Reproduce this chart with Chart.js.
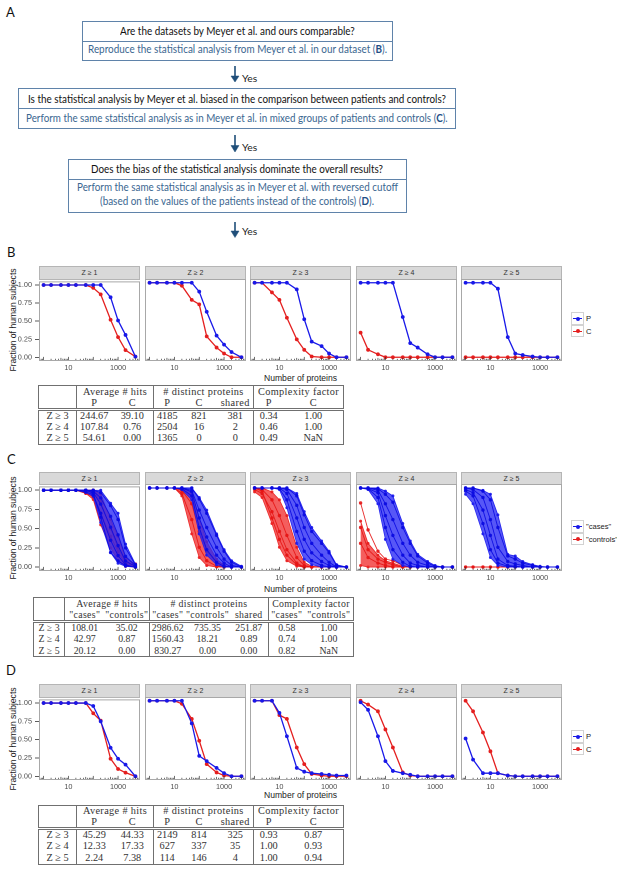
<!DOCTYPE html>
<html>
<head>
<meta charset="utf-8">
<script src="https://cdn.jsdelivr.net/npm/chart.js@4.4.1/dist/chart.umd.min.js"></script>
<style>
  body { margin: 0; width: 617px; height: 871px; position: relative; background: #fff; overflow: hidden;
         font-family: "Liberation Sans", Arial, sans-serif; }
  .abs { position: absolute; }
  .lbl { position: absolute; font-size: 13px; color: #111; font-family: "Lato", "Liberation Sans", sans-serif; }
  .box { position: absolute; border: 1px solid #5f83aa; box-sizing: border-box; background: #fff; }
  .rule { position: absolute; height: 0; border-top: 1px solid #5f83aa; }
  .fl { position: absolute; white-space: nowrap; transform-origin: 0 50%; font-family: "Lato", sans-serif;
        font-size: 10.5px; line-height: 1; }
  .fl b { color: #1f4f86; }
  .yes { position: absolute; font-family: "Lato", sans-serif; font-size: 10.3px; color: #222; transform: translateY(-50%); }
  .strip { position: absolute; background: #d9d9d9; border: 1px solid #b5b5b5; box-sizing: border-box;
           font-size: 7px; color: #333; text-align: center; }
  .ytitle { position: absolute; font-size: 8.6px; color: #222; white-space: nowrap;
            transform: translate(-50%, -50%) rotate(-90deg); }
  .xtitle { position: absolute; font-size: 8.6px; color: #222; white-space: nowrap; transform: translate(-50%, -50%); }
  .key { position: absolute; width: 13px; height: 12.5px; box-sizing: border-box; border: 1px solid #d2d2d2; background: #fff; }
  .key i { position: absolute; left: 1px; right: 1px; top: 5.2px; height: 1.3px; }
  .key s { position: absolute; left: 4.2px; top: 3.8px; width: 4px; height: 4px; border-radius: 50%; }
  .keytxt { position: absolute; font-size: 7.6px; color: #222; transform: translateY(-50%); white-space: nowrap; }
  table.tb { position: absolute; border-collapse: collapse; table-layout: fixed; font-family: "Liberation Serif", "Times New Roman", serif;
             color: #333; border: 1px solid #707070; }
  table.tb td { padding: 0; text-align: center; white-space: nowrap; line-height: 1; overflow: visible; }
  table.tb tr.h td { letter-spacing: 0.35px; }
  table.tb tr.h2 td { border-bottom: 3px double #707070; }
  table.tb td.sep { border-left: 1px solid #707070; }
</style>
</head>
<body>
<div class="lbl" style="left:6px;top:4px">A</div>
<div class="lbl" style="left:7px;top:244px">B</div>
<div class="lbl" style="left:7px;top:451px">C</div>
<div class="lbl" style="left:6px;top:662px">D</div>

<div class="box" style="left:82px;top:21px;width:311px;height:40px"></div>
<div class="rule" style="left:82px;top:41px;width:311px"></div>
<div class="box" style="left:18px;top:88px;width:438px;height:41px"></div>
<div class="rule" style="left:18px;top:108px;width:438px"></div>
<div class="box" style="left:68px;top:159px;width:339px;height:54px"></div>
<div class="rule" style="left:68px;top:179px;width:339px"></div>

<div id="flow"></div>

<svg class="abs" style="left:0;top:0" width="617" height="245">
  <g fill="#1f4e79" stroke="#1f4e79">
    <line x1="235" y1="66" x2="235" y2="78" stroke-width="1.6"/>
    <polygon points="231,76 239,76 235,82" stroke-width="0.5"/>
    <line x1="235" y1="135" x2="235" y2="147" stroke-width="1.6"/>
    <polygon points="231,145.5 239,145.5 235,152" stroke-width="0.5"/>
    <line x1="235" y1="222" x2="235" y2="233" stroke-width="1.6"/>
    <polygon points="231,231 239,231 235,237.5" stroke-width="0.5"/>
  </g>
</svg>
<div class="yes" style="left:242px;top:77.5px">Yes</div>
<div class="yes" style="left:242px;top:147px">Yes</div>
<div class="yes" style="left:242px;top:231px">Yes</div>

<script>
// x positions of the points (number of proteins) and facet labels
const proteins = [1, 2, 5, 10, 20, 50, 100, 200, 500, 1000, 2000, 5000];
const cutoffs = ['Z ≥ 1', 'Z ≥ 2', 'Z ≥ 3', 'Z ≥ 4', 'Z ≥ 5'];
const xTickValues = [10, 1000];
const yTickValues = [0, 0.25, 0.5, 0.75, 1];

// panel B: fraction of subjects, one row per cutoff
const bPatients = [
  [1, 1, 1, 1, 1, 1, 1, 1, 0.83, 0.51, 0.31, 0.01],
  [1, 1, 1, 1, 1, 1, 0.88, 0.61, 0.29, 0.17, 0.07, 0],
  [1, 1, 1, 1, 1, 0.91, 0.51, 0.21, 0.15, 0.05, 0, 0],
  [1, 1, 1, 1, 1, 0.54, 0.19, 0.13, 0.04, 0, 0, 0],
  [1, 1, 1, 1, 0.92, 0.27, 0.05, 0.03, 0.01, 0, 0, 0]
];
const bControls = [
  [1, 1, 1, 1, 1, 1, 0.96, 0.87, 0.52, 0.28, 0.10, 0.01],
  [1, 1, 1, 1, 0.96, 0.77, 0.71, 0.28, 0.13, 0.05, 0, 0],
  [1, 1, 0.87, 0.77, 0.53, 0.24, 0.10, 0.01, 0, 0, 0, 0],
  [0.33, 0.10, 0.04, 0, 0, 0, 0, 0, 0, 0, 0, 0],
  [0, 0, 0, 0, 0, 0, 0, 0, 0, 0, 0, 0]
];

// panel C: envelope of the mixed-group runs and some single runs
const cCasesHigh = [
  [1, 1, 1, 1, 1, 1, 1, 1, 0.83, 0.70, 0.30, 0.04],
  [1, 1, 1, 1, 1, 1, 0.88, 0.72, 0.42, 0.22, 0.08, 0.01],
  [1, 1, 1, 1, 1, 0.93, 0.70, 0.50, 0.33, 0.20, 0.03, 0],
  [1, 1, 1, 0.96, 0.90, 0.55, 0.33, 0.16, 0.07, 0.02, 0, 0],
  [1, 1, 0.97, 0.92, 0.66, 0.16, 0.14, 0.07, 0.03, 0.01, 0, 0]
];
const cCasesLow = [
  [1, 1, 1, 1, 1, 0.97, 0.92, 0.58, 0.19, 0.05, 0.01, 0],
  [1, 1, 1, 1, 0.98, 0.85, 0.42, 0.15, 0.03, 0, 0, 0],
  [1, 1, 1, 0.98, 0.75, 0.30, 0.10, 0.03, 0, 0, 0, 0],
  [1, 0.98, 0.80, 0.35, 0.10, 0.02, 0, 0, 0, 0, 0, 0],
  [0.92, 0.80, 0.42, 0.12, 0.02, 0, 0, 0, 0, 0, 0, 0]
];
const cCasesRuns = [
  [[1, 1, 1, 1, 1, 1, 1, 0.97, 0.80, 0.62, 0.25, 0.03],
   [1, 1, 1, 1, 1, 1, 0.99, 0.90, 0.66, 0.42, 0.14, 0.02],
   [1, 1, 1, 1, 1, 1, 0.97, 0.82, 0.52, 0.28, 0.08, 0.01],
   [1, 1, 1, 1, 1, 0.98, 0.94, 0.70, 0.35, 0.15, 0.03, 0],
   [1, 1, 1, 1, 1, 1, 0.96, 0.65, 0.19, 0.08, 0.02, 0]],
  [[1, 1, 1, 1, 1, 1, 0.86, 0.68, 0.40, 0.20, 0.06, 0],
   [1, 1, 1, 1, 1, 0.97, 0.72, 0.50, 0.25, 0.10, 0.02, 0],
   [1, 1, 1, 1, 1, 0.95, 0.62, 0.38, 0.15, 0.05, 0, 0],
   [1, 1, 1, 1, 0.99, 0.90, 0.50, 0.22, 0.06, 0.01, 0, 0]],
  [[1, 1, 1, 1, 1, 0.90, 0.66, 0.45, 0.30, 0.18, 0.02, 0],
   [1, 1, 1, 1, 0.98, 0.78, 0.50, 0.30, 0.15, 0.06, 0, 0],
   [1, 1, 1, 1, 0.93, 0.62, 0.35, 0.18, 0.07, 0.02, 0, 0],
   [1, 1, 1, 0.99, 0.85, 0.45, 0.20, 0.08, 0.02, 0, 0, 0]],
  [[1, 1, 0.99, 0.92, 0.82, 0.50, 0.30, 0.14, 0.05, 0.01, 0, 0],
   [1, 1, 0.97, 0.80, 0.60, 0.30, 0.15, 0.06, 0.02, 0, 0, 0],
   [1, 0.99, 0.94, 0.65, 0.40, 0.15, 0.05, 0.02, 0, 0, 0, 0],
   [1, 0.99, 0.88, 0.50, 0.22, 0.06, 0.01, 0, 0, 0, 0, 0]],
  [[1, 1, 0.96, 0.85, 0.50, 0.14, 0.10, 0.05, 0.02, 0, 0, 0],
   [1, 0.98, 0.88, 0.60, 0.25, 0.07, 0.04, 0.02, 0, 0, 0, 0],
   [0.98, 0.94, 0.72, 0.40, 0.10, 0.02, 0.01, 0, 0, 0, 0, 0],
   [0.96, 0.90, 0.55, 0.22, 0.05, 0.01, 0, 0, 0, 0, 0, 0]]
];
const cControlsHigh = [
  [1, 1, 1, 1, 1, 1, 1, 0.95, 0.62, 0.40, 0.12, 0.04],
  [1, 1, 1, 1, 1, 0.95, 0.62, 0.32, 0.10, 0.02, 0, 0],
  [1, 1, 0.95, 0.85, 0.65, 0.25, 0.06, 0.01, 0, 0, 0, 0],
  [0.58, 0.30, 0.15, 0.08, 0.05, 0.01, 0, 0, 0, 0, 0, 0],
  [0, 0, 0, 0, 0, 0, 0, 0, 0, 0, 0, 0]
];
const cControlsLow = [
  [1, 1, 1, 1, 1, 0.96, 0.88, 0.55, 0.25, 0.08, 0.01, 0],
  [1, 1, 1, 1, 0.90, 0.42, 0.12, 0.02, 0, 0, 0, 0],
  [0.95, 0.88, 0.55, 0.25, 0.08, 0.01, 0, 0, 0, 0, 0, 0],
  [0.02, 0, 0, 0, 0, 0, 0, 0, 0, 0, 0, 0],
  [0, 0, 0, 0, 0, 0, 0, 0, 0, 0, 0, 0]
];
const cControlsRuns = [
  [[1, 1, 1, 1, 1, 0.96, 0.92, 0.70, 0.40, 0.20, 0.04, 0.04],
   [1, 1, 1, 1, 1, 1, 1, 0.85, 0.50, 0.25, 0.06, 0]],
  [[1, 1, 1, 1, 0.97, 0.80, 0.45, 0.20, 0.05, 0, 0, 0],
   [1, 1, 1, 1, 0.93, 0.60, 0.25, 0.08, 0.01, 0, 0, 0]],
  [[1, 0.98, 0.85, 0.65, 0.40, 0.12, 0.02, 0, 0, 0, 0, 0],
   [0.98, 0.93, 0.70, 0.45, 0.22, 0.05, 0, 0, 0, 0, 0, 0],
   [1, 0.96, 0.62, 0.35, 0.15, 0.03, 0, 0, 0, 0, 0, 0]],
  [[0.81, 0.47, 0.20, 0.10, 0.08, 0.02, 0, 0, 0, 0, 0, 0],
   [0.50, 0.22, 0.10, 0.06, 0.03, 0, 0, 0, 0, 0, 0, 0],
   [0.30, 0.12, 0.05, 0.02, 0, 0, 0, 0, 0, 0, 0, 0]],
  [[0, 0, 0, 0, 0, 0, 0, 0, 0, 0, 0, 0]]
];

// panel D: reversed cutoff
const dPatients = [
  [1, 1, 1, 1, 1, 1, 0.96, 0.75, 0.39, 0.24, 0.16, 0],
  [1, 1, 1, 1, 1, 0.70, 0.27, 0.20, 0.11, 0.04, 0, 0],
  [1, 1, 1, 0.84, 0.53, 0.11, 0.06, 0.04, 0.03, 0.02, 0.01, 0.01],
  [0.98, 0.88, 0.53, 0.20, 0.07, 0.04, 0.02, 0, 0, 0, 0, 0],
  [0.50, 0.22, 0.04, 0.04, 0.04, 0.01, 0, 0, 0, 0, 0, 0]
];
const dControls = [
  [1, 1, 1, 1, 1, 1, 0.86, 0.76, 0.24, 0.10, 0.05, 0],
  [1, 1, 1, 1, 0.96, 0.76, 0.47, 0.16, 0.05, 0.01, 0, 0],
  [1, 1, 1, 0.81, 0.76, 0.38, 0.16, 0.03, 0.01, 0, 0, 0],
  [1, 0.95, 0.86, 0.62, 0.38, 0.05, 0.01, 0, 0, 0, 0, 0],
  [1, 0.86, 0.58, 0.33, 0.04, 0.01, 0, 0, 0, 0, 0, 0]
];

// tables
const groupHeads = ['Average # hits', '# distinct proteins', 'Complexity factor'];
const tableBHead = ['P', 'C', 'P', 'C', 'shared', 'P', 'C'];
const tableBRows = [
  ['Z ≥ 3', '244.67', '39.10', '4185', '821', '381', '0.34', '1.00'],
  ['Z ≥ 4', '107.84', '0.76', '2504', '16', '2', '0.46', '1.00'],
  ['Z ≥ 5', '54.61', '0.00', '1365', '0', '0', '0.49', 'NaN']
];
const tableCHead = ['"cases"', '"controls"', '"cases"', '"controls"', 'shared', '"cases"', '"controls"'];
const tableCRows = [
  ['Z ≥ 3', '108.01', '35.02', '2986.62', '735.35', '251.87', '0.58', '1.00'],
  ['Z ≥ 4', '42.97', '0.87', '1560.43', '18.21', '0.89', '0.74', '1.00'],
  ['Z ≥ 5', '20.12', '0.00', '830.27', '0.00', '0.00', '0.82', 'NaN']
];
const tableDHead = ['P', 'C', 'P', 'C', 'shared', 'P', 'C'];
const tableDRows = [
  ['Z ≥ 3', '45.29', '44.33', '2149', '814', '325', '0.93', '0.87'],
  ['Z ≥ 4', '12.33', '17.33', '627', '337', '35', '1.00', '0.93'],
  ['Z ≥ 5', '2.24', '7.38', '114', '146', '4', '1.00', '0.94']
];

// ---- layout ----
const BLUE = '#1818e8';
const RED = '#e41e1e';
const LEFTS = [39, 145, 250, 356, 461];
const PW = 101;
const X_MIN = 0.653, X_MAX = 7656;

Chart.defaults.font.family = '"Liberation Sans", Arial, sans-serif';

// flowchart lines: centre y, target width, colour, text
const flowLines = [
  [31, 234.7, '#111', 'Are the datasets by Meyer et al. and ours comparable?'],
  [49.3, 299, '#3a6690', 'Reproduce the statistical analysis from Meyer et al. in our dataset (<b>B</b>).'],
  [99.3, 418, '#111', 'Is the statistical analysis by Meyer et al. biased in the comparison between patients and controls?'],
  [118.3, 421.7, '#3a6690', 'Perform the same statistical analysis as in Meyer et al. in mixed groups of patients and controls (<b>C</b>).'],
  [169.3, 292, '#111', 'Does the bias of the statistical analysis dominate the overall results?'],
  [187.3, 321, '#3a6690', 'Perform the same statistical analysis as in Meyer et al. with reversed cutoff'],
  [201.7, 274, '#3a6690', '(based on the values of the patients instead of the controls) (<b>D</b>).']
];
const flow = document.getElementById('flow');
flowLines.forEach(([y, w, col, html]) => {
  const el = document.createElement('div');
  el.className = 'fl';
  el.style.color = col;
  el.innerHTML = html;
  flow.appendChild(el);
  const r = el.getBoundingClientRect();
  const k = w / r.width;
  el.style.left = (237 - w / 2) + 'px';
  el.style.top = (y - r.height / 2) + 'px';
  el.style.transform = `scaleX(${k})`;
});

function addDiv(cls, css, html) {
  const el = document.createElement('div');
  el.className = cls;
  el.style.cssText = css;
  if (html !== undefined) el.innerHTML = html;
  document.body.appendChild(el);
  return el;
}

const panelFrame = {
  id: 'panelFrame',
  afterDraw(chart) {
    const { ctx, chartArea: a, scales: { x } } = chart;
    ctx.save();
    ctx.strokeStyle = '#333';
    ctx.lineWidth = 0.7;
    for (let e = -1; e <= 4; e++) {
      for (let m = 1; m <= 9; m++) {
        const v = m * Math.pow(10, e);
        if (v < X_MIN || v > X_MAX) continue;
        const px = x.getPixelForValue(v);
        const len = m === 1 ? 3.6 : (m === 5 ? 2.6 : 1.7);
        ctx.beginPath();
        ctx.moveTo(px, a.bottom - 0.5);
        ctx.lineTo(px, a.bottom - 0.5 - len);
        ctx.stroke();
      }
    }
    ctx.strokeStyle = '#a8a8a8';
    ctx.lineWidth = 1;
    ctx.strokeRect(a.left + 0.5, a.top + 0.5, a.right - a.left - 1, a.bottom - a.top - 1);
    ctx.restore();
  }
};

function pts(ys) {
  return ys.map((y, i) => ({ x: proteins[i], y }));
}

function line(ys, color, width, radius) {
  return { data: pts(ys), borderColor: color, backgroundColor: color, borderWidth: width,
           pointRadius: radius, pointBorderWidth: 0, pointHoverRadius: 0, tension: 0, fill: false };
}

function band(high, low, color, edge) {
  return [
    { data: pts(high), borderColor: edge, backgroundColor: color, borderWidth: 0.8, pointRadius: 1.5,
      pointBackgroundColor: edge, pointBorderWidth: 0, tension: 0, fill: '+1' },
    { data: pts(low), borderColor: edge, backgroundColor: color, borderWidth: 0.8, pointRadius: 1.5,
      pointBackgroundColor: edge, pointBorderWidth: 0, tension: 0, fill: false }
  ];
}

function makePanel(col, row, datasets) {
  const yW = col === 0 ? 30 : 0;
  const padTop = 5, xH = 16;
  const w = yW + PW, h = padTop + row.h + xH;
  const cv = document.createElement('canvas');
  cv.width = w;
  cv.height = h;
  cv.style.cssText = `position:absolute;left:${LEFTS[col] - yW}px;top:${row.top - padTop}px;width:${w}px;height:${h}px`;
  document.body.appendChild(cv);
  new Chart(cv, {
    type: 'line',
    data: { datasets },
    options: {
      responsive: false,
      animation: false,
      devicePixelRatio: 2,
      layout: { autoPadding: false, padding: { top: padTop, left: 0, right: 0, bottom: 0 } },
      plugins: { legend: { display: false }, tooltip: { enabled: false } },
      scales: {
        x: {
          type: 'logarithmic', min: X_MIN, max: X_MAX,
          afterBuildTicks: s => { s.ticks = xTickValues.map(v => ({ value: v })); },
          afterFit: s => { s.height = xH; },
          grid: { display: false, drawTicks: false, tickLength: 0 }, border: { display: false },
          ticks: { padding: 2.5, color: '#4d4d4d', font: { size: 7.3 }, maxRotation: 0, autoSkip: false,
                   callback: v => String(v) }
        },
        y: {
          min: -0.05, max: 1.05, display: col === 0,
          afterBuildTicks: s => { s.ticks = yTickValues.map(v => ({ value: v })); },
          afterFit: s => { s.width = yW; },
          grid: { drawOnChartArea: false, tickLength: 4, color: '#333', lineWidth: 0.8 },
          border: { display: false },
          ticks: { padding: 3, color: '#4d4d4d', font: { size: 7.3 }, callback: v => Number(v).toFixed(2) }
        }
      }
    },
    plugins: [panelFrame]
  });
}

function facetRow(row) {
  cutoffs.forEach((c, i) => {
    addDiv('strip', `left:${LEFTS[i]}px;top:${row.strip}px;width:${PW}px;height:${row.top - row.strip + 1}px;line-height:${row.top - row.strip - 1}px`, c);
  });
  addDiv('ytitle', `left:12.5px;top:${row.top + row.h / 2}px`, 'Fraction of human subjects');
  addDiv('xtitle', `left:300.5px;top:${row.xt}px`, 'Number of proteins');
}

function legend(top, items) {
  items.forEach(([name, color], i) => {
    const y = top + i * 12.5;
    addDiv('key', `left:570.5px;top:${y}px`, `<i style="background:${color}"></i><s style="background:${color}"></s>`);
    addDiv('keytxt', `left:586px;top:${y + 6.3}px`, name);
  });
}

const rowB = { strip: 266, top: 279, h: 82, xt: 378 };
const rowC = { strip: 472, top: 484, h: 87, xt: 588.5 };
const rowD = { strip: 684, top: 697, h: 83, xt: 795 };

facetRow(rowB);
facetRow(rowC);
facetRow(rowD);

cutoffs.forEach((c, i) => {
  makePanel(i, rowB, [line(bPatients[i], BLUE, 1.3, 1.9), line(bControls[i], RED, 1.3, 1.9)]);
  makePanel(i, rowD, [line(dPatients[i], BLUE, 1.3, 1.9), line(dControls[i], RED, 1.3, 1.9)]);
  const sets = [];
  cCasesRuns[i].forEach(r => sets.push(line(r, 'rgba(10,10,225,0.9)', 0.9, 1.7)));
  sets.push(...band(cCasesHigh[i], cCasesLow[i], 'rgba(40,40,245,0.78)', 'rgba(20,20,235,0.9)'));
  cControlsRuns[i].forEach(r => sets.push(line(r, 'rgba(230,20,20,0.9)', 0.9, 1.7)));
  sets.push(...band(cControlsHigh[i], cControlsLow[i], 'rgba(240,40,40,0.75)', 'rgba(232,25,25,0.9)'));
  makePanel(i, rowC, sets);
});

legend(312, [['P', BLUE], ['C', RED]]);
legend(520, [['"cases"', BLUE], ['"controls"', RED]]);
legend(730, [['P', BLUE], ['C', RED]]);

function makeTable(left, top, widths, head, rows, hh, rh, fs) {
  const t = document.createElement('table');
  t.className = 'tb';
  t.style.left = left + 'px';
  t.style.top = top + 'px';
  t.style.fontSize = fs + 'px';
  let html = '<colgroup>' + widths.map(w => `<col style="width:${w}px">`).join('') + '</colgroup>';
  html += `<tr class="h" style="height:${hh}px"><td rowspan="2" style="border-bottom:3px double #707070"></td>` +
    `<td class="sep" colspan="2">${groupHeads[0]}</td><td class="sep" colspan="3">${groupHeads[1]}</td>` +
    `<td class="sep" colspan="2">${groupHeads[2]}</td></tr>`;
  html += `<tr class="h h2" style="height:${hh}px">` + head.map((h, i) =>
    `<td class="${i === 0 || i === 2 || i === 5 ? 'sep' : ''}">${h}</td>`).join('') + '</tr>';
  rows.forEach(r => {
    html += `<tr style="height:${rh}px">` + r.map((v, i) =>
      `<td class="${i === 1 || i === 3 || i === 6 ? 'sep' : ''}">${v}</td>`).join('') + '</tr>';
  });
  t.innerHTML = html;
  document.body.appendChild(t);
}

makeTable(38, 385, [38, 35, 42, 27, 37, 36, 30, 60], tableBHead, tableBRows, 12, 11.5, 10.3);
makeTable(33, 597, [31, 40, 45, 36, 44, 39, 36, 49], tableCHead, tableCRows, 12, 11.7, 9.8);
makeTable(38, 805, [38, 35, 42, 27, 37, 36, 30, 60], tableDHead, tableDRows, 11, 12, 10.3);
</script>
</body>
</html>
